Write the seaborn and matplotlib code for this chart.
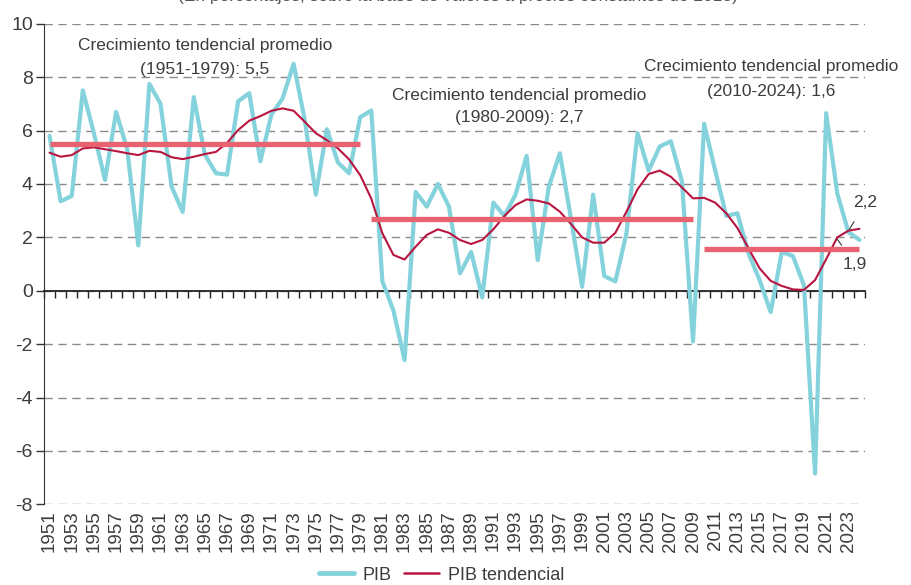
import matplotlib
matplotlib.use('Agg')
import matplotlib.pyplot as plt
import seaborn as sns
import numpy as np
import pandas as pd

# datos (tasas de variación anual, %)
years = list(range(1951, 2025))
pib = [5.8, 3.35, 3.55, 7.5, 5.9, 4.15, 6.7, 5.3, 1.7, 7.75,
       7.0, 3.9, 2.95, 7.25, 5.1, 4.4, 4.35, 7.1, 7.4, 4.85,
       6.6, 7.2, 8.5, 6.4, 3.6, 6.05, 4.8, 4.4, 6.5, 6.75,
       0.35, -0.75, -2.6, 3.7, 3.15, 4.0, 3.15, 0.65, 1.45, -0.25,
       3.3, 2.8, 3.6, 5.05, 1.15, 3.9, 5.15, 2.7, 0.15, 3.6,
       0.55, 0.35, 2.15, 5.9, 4.5, 5.4, 5.6, 4.1, -1.9, 6.25,
       4.5, 2.8, 2.9, 1.4, 0.4, -0.8, 1.45, 1.3, 0.2, -6.85,
       6.65, 3.65, 2.2, 1.9]
tendencial = [5.17, 5.02, 5.08, 5.33, 5.37, 5.3, 5.23, 5.15, 5.08, 5.24,
              5.2, 5.0, 4.93, 5.02, 5.12, 5.2, 5.54, 6.02, 6.37, 6.54,
              6.74, 6.83, 6.74, 6.33, 5.9, 5.64, 5.33, 4.92, 4.33, 3.45,
              2.15, 1.34, 1.17, 1.65, 2.09, 2.3, 2.17, 1.9, 1.75, 1.9,
              2.3, 2.8, 3.21, 3.42, 3.37, 3.27, 2.96, 2.5, 2.0, 1.8,
              1.8, 2.17, 2.96, 3.8, 4.37, 4.5, 4.27, 3.87, 3.46, 3.48,
              3.3, 2.9, 2.35, 1.59, 0.84, 0.37, 0.18, 0.05, 0.03, 0.4,
              1.18, 2.0, 2.25, 2.32]

periodo_ini = [1951, 1980, 2010]
periodo_fin = [1979, 2009, 2024]
promedios = [5.5, 2.7, 1.55]
etiquetas = ['(1951-1979): 5,5', '(1980-2009): 2,7', '(2010-2024): 1,6']

df = pd.DataFrame({'year': years, 'PIB': pib, 'PIB tendencial': tendencial})
long = df.melt(id_vars='year', var_name='serie', value_name='valor')

sns.set_style('white')
plt.rcParams['font.family'] = ['Liberation Sans', 'DejaVu Sans']
plt.rcParams['axes.unicode_minus'] = False

c_pib = '#84D2DB'
c_tend = '#B81540'
c_prom = '#E8636F'
c_txt = '#3c3c3c'
fs = 12.5

fig = plt.figure(figsize=(9.11, 5.85), dpi=100)
ax = fig.add_axes([0.0483, 0.1379, 0.9012, 0.8215])

sns.lineplot(data=long, x='year', y='valor', hue='serie',
             palette={'PIB': c_pib, 'PIB tendencial': c_tend},
             size='serie', sizes={'PIB': 3.0, 'PIB tendencial': 1.5},
             ax=ax, legend=False, zorder=3)

# promedios por periodo
ax.hlines(promedios, periodo_ini, periodo_fin, colors=c_prom, lw=3.8, zorder=4)

ax.set_xlim(1950.5, 2024.5)
ax.set_ylim(-8, 10)
ax.set_xlabel('')
ax.set_ylabel('')

# eje y
ax.set_yticks(range(-8, 11, 2))
ax.set_yticklabels([str(v) for v in range(-8, 11, 2)])
ax.tick_params(axis='y', direction='out', length=6, width=1, color='#333333',
               labelsize=14, labelcolor=c_txt, pad=2, left=True)
ax.yaxis.grid(True, ls=(0, (6, 4)), color='#8a8a8a', lw=1)
ax.spines['left'].set_color('#333333')
ax.spines['left'].set_bounds(-8, 10)
ax.spines['top'].set_visible(False)
ax.spines['right'].set_visible(False)

# eje x sobre el cero, con marcas entre categorias
ax.spines['bottom'].set_position(('data', 0))
ax.spines['bottom'].set_color('#222222')
ax.spines['bottom'].set_linewidth(1.3)
ax.set_xticks(np.arange(1950.5, 2025, 1))
ax.tick_params(axis='x', direction='out', length=5, width=1, color='#222222',
               labelbottom=False, bottom=True)

sec = ax.secondary_xaxis(0)
sec.set_xticks(years[::2])
sec.set_xticklabels([str(y) for y in years[::2]], rotation=90,
                    fontsize=13.5, color=c_txt)
sec.tick_params(length=0, pad=4)
sec.spines['bottom'].set_visible(False)

# textos de promedio
ax.text(1965.0, 9.2, 'Crecimiento tendencial promedio', ha='center', va='center',
        fontsize=fs, color=c_txt)
ax.text(1965.0, 8.3, etiquetas[0], ha='center', va='center', fontsize=fs, color=c_txt)
ax.text(1993.3, 7.3, 'Crecimiento tendencial promedio', ha='center', va='center',
        fontsize=fs, color=c_txt)
ax.text(1993.3, 6.5, etiquetas[1], ha='center', va='center', fontsize=fs, color=c_txt)
ax.text(2016.0, 8.4, 'Crecimiento tendencial promedio', ha='center', va='center',
        fontsize=fs, color=c_txt)
ax.text(2016.0, 7.45, etiquetas[2], ha='center', va='center', fontsize=fs, color=c_txt)

ax.annotate('2,2', xy=(2023.1, 2.3), xytext=(2024.55, 3.3), ha='center', va='center',
            fontsize=fs, color=c_txt, annotation_clip=False,
            arrowprops=dict(arrowstyle='-', color='#333333', lw=0.8, shrinkA=7, shrinkB=0))
ax.annotate('1,9', xy=(2022.0, 1.93), xytext=(2023.6, 1.0), ha='center', va='center',
            fontsize=fs, color=c_txt, annotation_clip=False,
            arrowprops=dict(arrowstyle='-', color='#333333', lw=0.8, shrinkA=7, shrinkB=0))

# titulo (cortado en la parte superior, como en el original)
fig.text(0.503, 1 - 1.5 / 585, '(En porcentajes, sobre la base de valores a precios constantes de 2018)',
         ha='center', va='baseline', fontsize=fs, color='#555555')

# leyenda
handles = [plt.Line2D([], [], color=c_pib, lw=3.5),
           plt.Line2D([], [], color=c_tend, lw=1.8)]
fig.legend(handles, ['PIB', 'PIB tendencial'], loc='center', bbox_to_anchor=(0.485, 10 / 585),
           ncol=2, frameon=False, fontsize=13, handlelength=1.9, columnspacing=0.7,
           handletextpad=0.5, labelcolor=c_txt)

fig.savefig('out.png', dpi=100)
